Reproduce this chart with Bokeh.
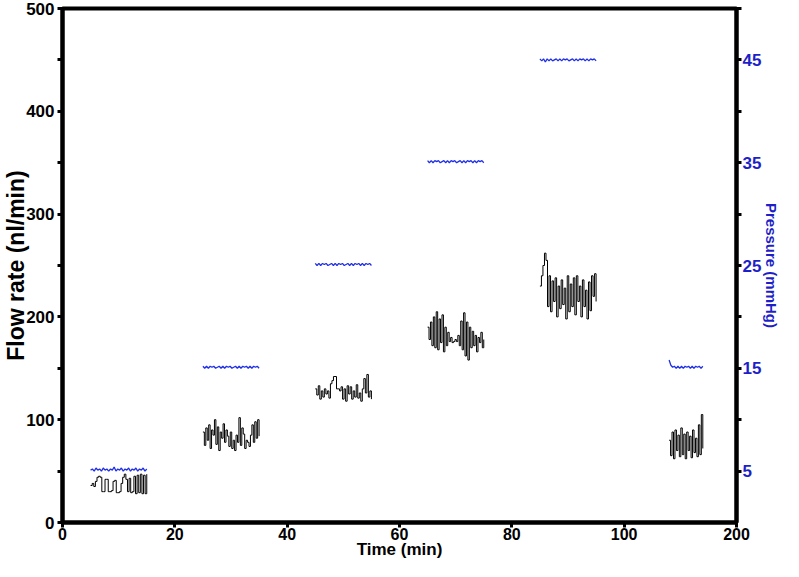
import numpy as np
from bokeh.plotting import figure
from bokeh.models import Range1d, LinearAxis, FixedTicker
from bokeh.embed import file_html
from bokeh.resources import INLINE

# ---- data ----
# plotted time positions; the last x tick is labelled "200" on the original axis
seg_start = [5, 25, 45, 65, 85, 108]
seg_end = [15, 35, 55, 75, 95, 114]

flow_1 = [36, 38, 35, 40, 44, 45, 44, 30, 30, 42, 42, 30, 30, 31, 40, 41, 29, 29, 30, 38,
          44, 47, 42, 30, 43, 29, 30, 45, 28, 46, 29, 47, 28, 46, 28, 47]
flow_2 = [88, 75, 92, 80, 95, 72, 90, 85, 100, 76, 93, 70, 88, 82, 96, 78, 90, 84, 74, 88,
          72, 80, 70, 85, 78, 102, 75, 92, 86, 72, 80, 78, 74, 85, 95, 78, 98, 82, 100, 84]
flow_3 = [130, 124, 133, 120, 128, 122, 130, 125, 128, 121, 135, 138, 142, 142, 130, 130,
          128, 132, 120, 130, 118, 133, 125, 132, 120, 128, 122, 134, 121, 126, 118, 130,
          140, 126, 144, 122, 128, 120]
flow_4 = [190, 178, 195, 172, 200, 170, 205, 168, 198, 175, 202, 166, 190, 172, 185, 176,
          180, 175, 176, 178, 176, 182, 172, 196, 168, 204, 162, 195, 158, 190, 170, 186,
          172, 182, 166, 180, 175, 185, 170, 178]
flow_5 = [230, 240, 250, 262, 255, 210, 240, 205, 235, 215, 238, 200, 230, 208, 236, 212,
          228, 198, 240, 205, 232, 210, 238, 202, 240, 215, 230, 200, 236, 210, 226, 198,
          234, 206, 240, 220, 242, 215]
flow_6 = [80, 65, 88, 62, 90, 70, 85, 64, 92, 66, 86, 62, 88, 70, 84, 63, 90, 68, 82, 64,
          95, 66, 105, 72]
flows = [flow_1, flow_2, flow_3, flow_4, flow_5, flow_6]

press_1 = [5.1, 5.2, 5.0, 5.3, 5.1, 5.2, 5.0, 5.3, 5.1, 5.2, 5.0, 5.2, 5.1, 5.4, 5.0, 5.2,
           5.1, 5.3, 5.0, 5.2, 5.1, 5.3, 5.0, 5.2, 5.1, 5.3, 5.0, 5.2, 5.1, 5.3, 5.0, 5.2]
press_2 = [15.2, 15.0, 15.2, 15.0, 15.2, 15.1, 15.2, 15.0, 15.1, 15.2, 15.0, 15.2, 15.0,
           15.2, 15.1, 15.2, 15.0, 15.1, 15.2, 15.0, 15.2, 15.0, 15.2, 15.1, 15.2, 15.0,
           15.2, 15.0, 15.2, 15.1, 15.2, 15.0]
press_3 = [25.2, 25.0, 25.2, 25.0, 25.2, 25.1, 25.2, 25.0, 25.1, 25.2, 25.0, 25.2, 25.0,
           25.2, 25.1, 25.2, 25.0, 25.1, 25.2, 25.0, 25.2, 25.0, 25.2, 25.1, 25.2, 25.0,
           25.2, 25.0, 25.2, 25.1, 25.2, 25.0]
press_4 = [35.2, 35.0, 35.2, 35.0, 35.2, 35.1, 35.2, 35.0, 35.1, 35.2, 35.0, 35.2, 35.0,
           35.2, 35.1, 35.2, 35.0, 35.1, 35.2, 35.0, 35.2, 35.0, 35.2, 35.1, 35.2, 35.0,
           35.2, 35.0, 35.2, 35.1, 35.2, 35.0]
press_5 = [45.1, 44.9, 45.1, 44.8, 45.1, 44.9, 45.1, 44.9, 45.0, 45.1, 44.9, 45.1, 44.9,
           45.1, 45.0, 45.1, 44.9, 45.0, 45.1, 44.9, 45.1, 44.9, 45.1, 45.0, 45.1, 44.9,
           45.1, 44.9, 45.1, 45.0, 45.1, 44.9]
press_6 = [15.8, 15.3, 15.1, 15.2, 15.0, 15.2, 15.0, 15.2, 15.0, 15.2, 15.1, 15.2, 15.0,
           15.2, 15.0, 15.2, 15.1, 15.2, 15.0, 15.2]
pressures = [press_1, press_2, press_3, press_4, press_5, press_6]

x_ticks = [0, 20, 40, 60, 80, 100, 120]
x_tick_labels = ["0", "20", "40", "60", "80", "100", "200"]
flow_ticks = [0, 100, 200, 300, 400, 500]
flow_minor = [50, 150, 250, 350, 450]
press_ticks = [5, 15, 25, 35, 45]
press_minor = [10, 20, 30, 40, 50]

BLUE_TXT = "#1f1fc8"
BLUE_LINE = "#1f2fe6"
FONT = "Liberation Sans"

p = figure(width=783, height=561, output_backend="svg", toolbar_location=None,
           x_range=Range1d(0, 120), y_range=Range1d(0, 500),
           min_border_left=0, min_border_right=0, min_border_top=8, min_border_bottom=0)
p.extra_y_ranges = {"pressure": Range1d(0, 50)}

p.grid.visible = False
p.outline_line_color = "black"
p.outline_line_width = 4
p.background_fill_color = "white"
p.border_fill_color = "white"

# pressure traces
for s, e, vals in zip(seg_start, seg_end, pressures):
    xs = np.linspace(s, e, len(vals))
    p.line(xs, vals, y_range_name="pressure", line_color=BLUE_LINE, line_width=1.3)

# flow traces
for s, e, vals in zip(seg_start, seg_end, flows):
    xs = np.linspace(s, e, len(vals))
    p.step(xs, vals, mode="after", line_color="black", line_width=1)

def style(ax, size, label_size, color="black"):
    ax.axis_line_width = 4
    ax.axis_line_color = "black"
    ax.major_tick_line_width = 3
    ax.minor_tick_line_width = 3
    ax.major_tick_in = 0
    ax.major_tick_out = 5
    ax.minor_tick_in = 0
    ax.minor_tick_out = 5
    ax.major_label_text_font = FONT
    ax.major_label_text_font_style = "bold"
    ax.major_label_text_font_size = size
    ax.major_label_text_color = color
    ax.axis_label_text_font = FONT
    ax.axis_label_text_font_style = "bold"
    ax.axis_label_text_font_size = label_size
    ax.axis_label_text_color = color
    ax.major_label_standoff = 2

xa = p.xaxis[0]
xa.ticker = FixedTicker(ticks=x_ticks)
xa.major_label_overrides = {t: l for t, l in zip(x_ticks, x_tick_labels)}
xa.axis_label = "Time (min)"
style(xa, "16px", "17px")
xa.minor_tick_out = 0
xa.major_label_standoff = 0
xa.axis_label_standoff = -3

ya = p.yaxis[0]
ya.ticker = FixedTicker(ticks=flow_ticks, minor_ticks=flow_minor)
ya.axis_label = "Flow rate (nl/min)"
style(ya, "17px", "23px")
ya.major_label_standoff = 3
ya.axis_label_standoff = -6

ra = LinearAxis(y_range_name="pressure", axis_label="Pressure (mmHg)",
                ticker=FixedTicker(ticks=press_ticks, minor_ticks=press_minor))
style(ra, "17px", "15px", color=BLUE_TXT)
ra.major_label_standoff = 1
ra.axis_label_standoff = -1
p.add_layout(ra, "right")

open("out.html", "w").write(file_html(p, INLINE))
